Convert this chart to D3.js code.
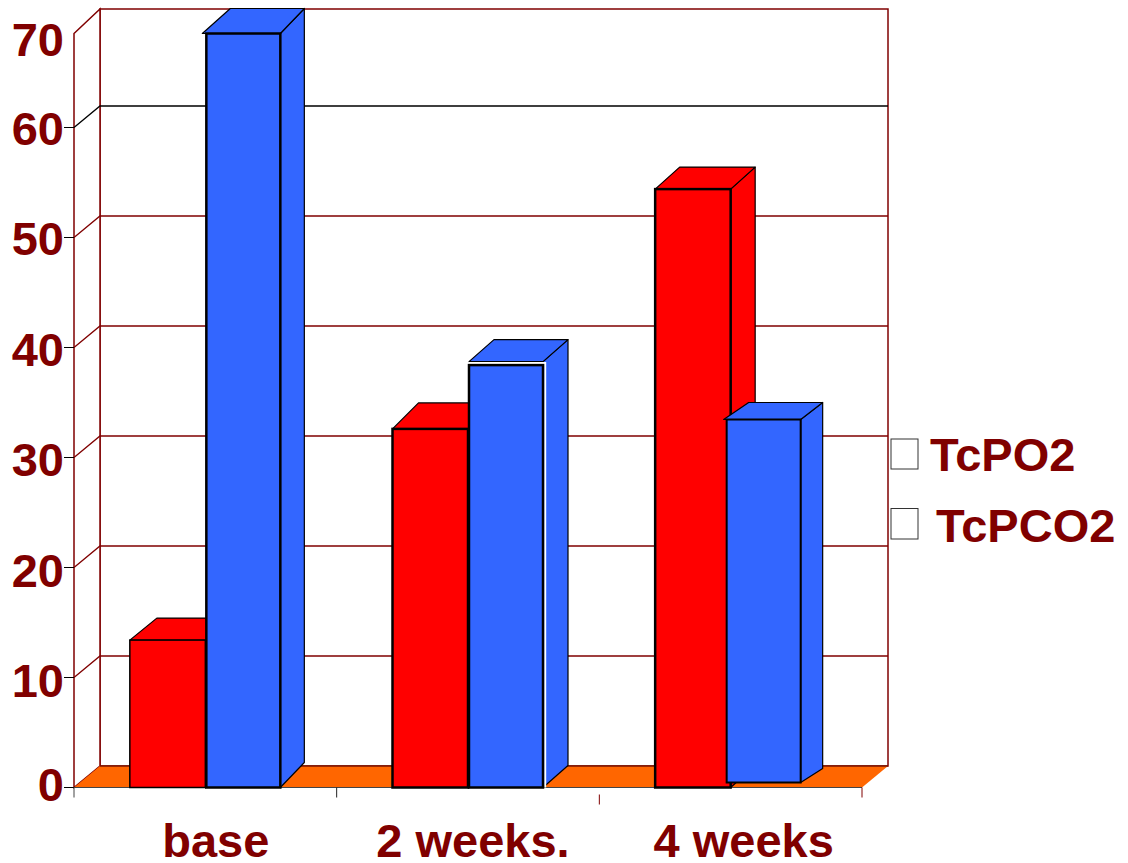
<!DOCTYPE html>
<html>
<head>
<meta charset="utf-8">
<script src="https://cdn.jsdelivr.net/npm/d3@7"></script>
<style>
  html, body { margin: 0; padding: 0; background: #fff; }
  svg { display: block; }
  text { font-family: "Liberation Sans", Arial, sans-serif; font-weight: bold; font-size: 47px; fill: #800000; }
</style>
</head>
<body>
<div id="chart"></div>
<script>
// values
const categories = ["base", "2 weeks.", "4 weeks"]
const seriesNames = ["TcPO2", "TcPCO2"]
const tcpo2 = [13.4, 32.6, 54.4]
const tcpco2 = [70, 38.4, 33]
const yTicks = [0, 10, 20, 30, 40, 50, 60, 70]

const width = 1128
const height = 863
const red = "#ff0000"
const blue = "#3366ff"
const orange = "#ff6600"
const maroon = "#800000"

const svg = d3.select("#chart")
    .append("svg")
    .attr("width", width)
    .attr("height", height)

// the top of the axis is squeezed in the original, hence the extra stop at 60
const y = d3.scaleLinear().domain([0, 60, 70]).range([787.5, 127.5, 33.5])
// baselines of the tick labels do not sit evenly on the ticks
const yLabel = d3.scaleLinear().domain([0, 10, 60, 70]).range([801, 697, 145, 56])
const x = d3.scaleBand().domain(categories).range([74, 862])
const x1 = d3.scaleBand().domain(seriesNames).range([-75.5, 75.5])

// fake 3d: how far the back wall is pushed
const wallDx = 26
const wallDy = -21.5
const topY = 9

// depth and hand nudges of each bar, the original was edited by hand
const barLook = [
    { dx: 27, dy: 22, stroke: 1.5 },
    { dx: 24, dy: 25, stroke: 2.5, insetL: 1, insetR: 0.5, over: 4 },
    { dx: 26, dy: 26, stroke: 2.5 },
    { dx: 25, dy: 22, stroke: 2.5, insetL: 1, insetR: 0.5, lift: 3.5, halo: true },
    { dx: 24.5, dy: 22, stroke: 2.5 },
    { dx: 22, dy: 17, stroke: 2, insetL: 1, insetR: 0.5, moveX: -5, moveY: -5, over: 3, sideDy: 14 }
]

const line = d3.line()
const wall = svg.append("g")

// back wall
wall.append("rect")
    .attr("x", x.range()[0] + wallDx)
    .attr("y", topY)
    .attr("width", x.range()[1] - x.range()[0])
    .attr("height", y(0) + wallDy - topY)
    .attr("fill", "#fff")
    .attr("stroke", maroon)
    .attr("stroke-width", 1.5)

// side wall
wall.append("path")
    .attr("d", line([[74, y(70)], [100, topY], [100, y(0) + wallDy], [74, y(0)]]) + "Z")
    .attr("fill", "#fff")
    .attr("stroke", maroon)
    .attr("stroke-width", 1.5)

// floor
wall.append("path")
    .attr("d", line([[74, y(0)], [862, y(0)], [888, y(0) + wallDy], [100, y(0) + wallDy]]) + "Z")
    .attr("fill", orange)
wall.append("path")
    .attr("d", line([[100, y(0) + wallDy], [888, y(0) + wallDy]]))
    .attr("stroke", "#7a1500")
    .attr("stroke-width", 1.5)
wall.append("path")
    .attr("d", line([[74, y(0)], [862, y(0)]]))
    .attr("stroke", "#444")
    .attr("stroke-width", 1)

// gridlines along side wall and back wall
wall.selectAll(".grid")
    .data(yTicks.filter(d => d > 0 && d < 70))
    .join("path")
    .attr("class", "grid")
    .attr("d", d => line([[74, y(d)], [100, y(d) + wallDy], [888, y(d) + wallDy]]))
    .attr("fill", "none")
    .attr("stroke", d => d == 60 ? "#000" : maroon)
    .attr("stroke-width", 1.3)

// y axis
const yAxis = svg.append("g")
yAxis.selectAll("line")
    .data(yTicks.filter(d => d < 70))
    .join("line")
    .attr("x1", 64).attr("x2", 74)
    .attr("y1", d => y(d)).attr("y2", d => y(d))
    .attr("stroke", "#000")
    .attr("stroke-width", 1)
yAxis.selectAll("text")
    .data(yTicks)
    .join("text")
    .attr("x", 64)
    .attr("y", d => yLabel(d))
    .attr("text-anchor", "end")
    .text(d => d)

// x axis ticks, the third one slipped down in the original
const xTickColors = ["#444", "#222", maroon, maroon]
svg.append("g").selectAll("line")
    .data(d3.range(categories.length + 1))
    .join("line")
    .attr("x1", i => x.range()[0] + i * x.step())
    .attr("x2", i => x.range()[0] + i * x.step())
    .attr("y1", i => y(0) + (i == 2 ? 7 : 0))
    .attr("y2", i => y(0) + (i == 2 ? 17 : 10))
    .attr("stroke", (i) => xTickColors[i])
    .attr("stroke-width", 1)

const labelMove = [10.5, 5, 13]
svg.append("g").selectAll("text")
    .data(categories)
    .join("text")
    .attr("x", (d, i) => x(d) + x.bandwidth() / 2 + labelMove[i])
    .attr("y", 857)
    .attr("text-anchor", "middle")
    .text(d => d)

// bars
const bars = []
categories.forEach((c, i) => {
    bars.push({ cat: c, series: seriesNames[0], value: tcpo2[i], color: red, look: barLook[i * 2] })
    bars.push({ cat: c, series: seriesNames[1], value: tcpco2[i], color: blue, look: barLook[i * 2 + 1] })
})

const barG = svg.append("g").selectAll("g")
    .data(bars)
    .join("g")
    .each(function (d) {
        const g = d3.select(this)
        const look = d.look
        const start = x(d.cat) + x.bandwidth() / 2 + x1(d.series) + (look.moveX || 0)
        const left = start + (look.insetL || 0)
        const right = start + x1.bandwidth() - (look.insetR || 0)
        const base = y(0) + (look.moveY || 0)
        const top = y(d.value) + (look.moveY || 0)
        const roof = top - (look.lift || 0)
        const sideDy = look.sideDy || look.dy

        // side face
        g.append("path")
            .attr("d", line([[right, roof], [right + look.dx, roof - look.dy], [right + look.dx, base - sideDy], [right, base]]) + "Z")
            .attr("fill", d.color)
            .attr("stroke", "#000")
            .attr("stroke-width", 1.2)
            .attr("stroke-linejoin", "round")
        // top face
        g.append("path")
            .attr("d", line([[left - (look.over || 0), roof], [left + look.dx, roof - look.dy], [right + look.dx, roof - look.dy], [right, roof]]) + "Z")
            .attr("fill", d.color)
            .attr("stroke", "#000")
            .attr("stroke-width", 1.2)
            .attr("stroke-linejoin", "round")
        // white edge only on top and right of the bar
        if (look.halo) {
            g.append("path")
                .attr("d", line([[left, top - 2.2], [right + 2.2, top - 2.2], [right + 2.2, base]]))
                .attr("fill", "none")
                .attr("stroke", "#fff")
                .attr("stroke-width", 2)
        }
        // front face
        g.append("rect")
            .attr("x", left).attr("y", top)
            .attr("width", right - left).attr("height", base - top)
            .attr("fill", d.color)
            .attr("stroke", "#000")
            .attr("stroke-width", look.stroke)
    })

// legend, the swatches really are empty in the original
const legendBoxY = [439, 508.5]
const legendBoxH = [30, 30.5]
const legendTextX = [930, 936]
const legendTextY = [470.5, 541.5]
const legend = svg.append("g").selectAll("g")
    .data(seriesNames)
    .join("g")
legend.append("rect")
    .attr("x", 891)
    .attr("y", (d, i) => legendBoxY[i])
    .attr("width", 27)
    .attr("height", (d, i) => legendBoxH[i])
    .attr("fill", "#fff")
    .attr("stroke", "#333")
    .attr("stroke-width", 1)
legend.append("text")
    .attr("x", (d, i) => legendTextX[i])
    .attr("y", (d, i) => legendTextY[i])
    .text(d => d)
</script>
</body>
</html>
